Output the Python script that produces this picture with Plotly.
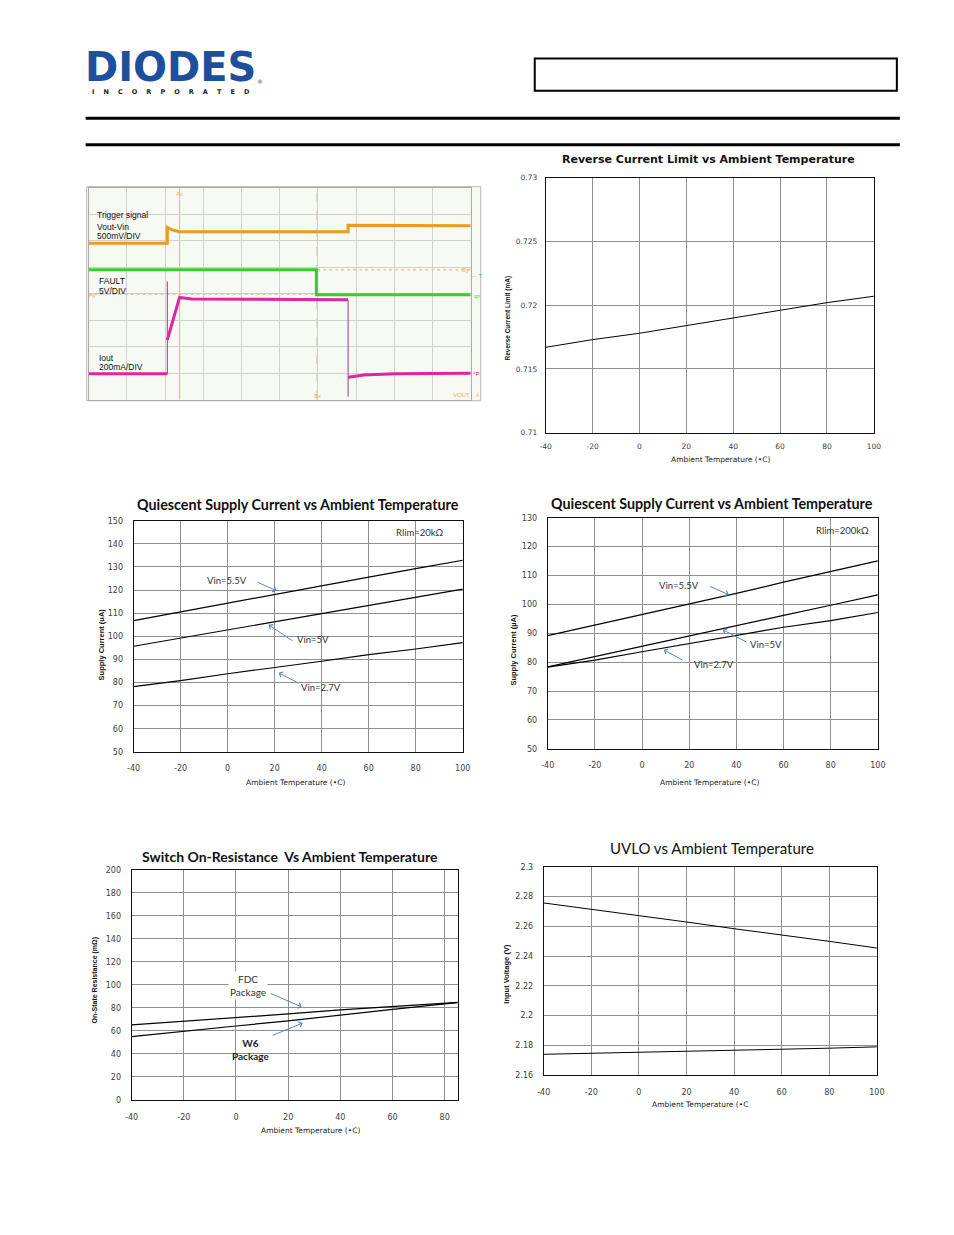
import plotly.graph_objects as go

W, H = 954, 1235

# small correction for how the page is captured (measured from a previous render)
SX, OX = 0.984, 7.4
SY, OY = 0.9924, 4.4


def px(x):
    return ((x - OX) / SX) / W


def py(y):
    return 1 - ((y - OY) / SY) / H


# ---------------- data ----------------
temps = [-40, -20, 0, 20, 40, 60, 80, 100]
temp_labels = ["-40", "-20", "0", "20", "40", "60", "80", "100"]
rev_limit = [0.7167, 0.7173, 0.7178, 0.7184, 0.7190, 0.7196, 0.7202, 0.7207]

q20_vin55 = [106.8, 110.6, 114.3, 118.3, 121.8, 125.6, 129.3, 132.9]
q20_vin50 = [95.7, 99.2, 102.7, 106.2, 109.7, 113.2, 116.8, 120.4]
q20_vin27 = [78.2, 80.8, 83.8, 86.4, 89.2, 92.1, 94.5, 97.3]

q200_vin55 = [89.2, 92.8, 96.5, 100.2, 103.8, 107.7, 111.4, 115.1]
q200_vin50 = [78.4, 82.0, 85.5, 89.2, 92.7, 96.2, 99.7, 103.3]
q200_vin27 = [78.3, 80.7, 83.6, 86.5, 89.2, 92.1, 94.4, 97.2]

ron_temps = [-40, -20, 0, 20, 40, 60, 80, 85]
ron_ticks = [-40, -20, 0, 20, 40, 60, 80]
ron_labels = ["-40", "-20", "0", "20", "40", "60", "80"]
ron_fdc = [65.2, 68.2, 71.6, 74.8, 78.3, 81.2, 84.1, 84.9]
ron_w6 = [55.1, 59.4, 64.3, 68.7, 73.9, 78.8, 83.5, 84.6]

uvlo_rise = [2.2757, 2.2715, 2.2676, 2.2629, 2.2584, 2.2544, 2.2499, 2.2454]
uvlo_fall = [2.1739, 2.1745, 2.1751, 2.1757, 2.1766, 2.1773, 2.1780, 2.1789]

# oscilloscope capture (time and level in screen divisions)
vout_t = [0, 2.06, 2.06, 2.2, 2.38, 6.79, 6.79, 10]
vout_v = [5.9, 5.9, 6.5, 6.4, 6.34, 6.34, 6.58, 6.56]
fault_t = [0, 5.96, 5.96, 10]
fault_v = [4.9, 4.9, 3.96, 3.96]
iout_t = [0, 2.06, None, 2.06, 2.38, 2.7, 6.79, None, 6.79, 7.2, 8.0, 10]
iout_v = [0.98, 0.98, None, 2.26, 3.86, 3.8, 3.77, None, 0.85, 0.93, 0.98, 1.0]
iout_edge_t = [2.06, 2.06, None, 6.79, 6.79]
iout_edge_v = [0.98, 4.46, None, 3.77, 0.12]
cursor_ax = 2.38
cursor_bx = 5.98
cursor_ay = 3.98
cursor_by = 4.9

fig = go.Figure()

# ---------------- scope ----------------
fig.add_trace(go.Scatter(x=iout_edge_t, y=iout_edge_v, xaxis="x", yaxis="y", mode="lines",
                         line=dict(color="#9B3A8E", width=1), hoverinfo="skip"))
fig.add_trace(go.Scatter(x=vout_t, y=vout_v, xaxis="x", yaxis="y", mode="lines",
                         line=dict(color="#EE9A1E", width=3), hoverinfo="skip"))
fig.add_trace(go.Scatter(x=fault_t, y=fault_v, xaxis="x", yaxis="y", mode="lines",
                         line=dict(color="#3CCB2E", width=3), hoverinfo="skip"))
fig.add_trace(go.Scatter(x=iout_t, y=iout_v, xaxis="x", yaxis="y", mode="lines",
                         line=dict(color="#E0259E", width=3), hoverinfo="skip"))

BL = dict(color="black", width=1)
fig.add_trace(go.Scatter(x=temps, y=rev_limit, xaxis="x2", yaxis="y2", mode="lines", line=BL))
for s in (q20_vin55, q20_vin50, q20_vin27):
    fig.add_trace(go.Scatter(x=temps, y=s, xaxis="x3", yaxis="y3", mode="lines",
                             line=dict(color="black", width=1.2)))
for s in (q200_vin55, q200_vin50, q200_vin27):
    fig.add_trace(go.Scatter(x=temps, y=s, xaxis="x4", yaxis="y4", mode="lines",
                             line=dict(color="black", width=1.2)))
for s in (ron_fdc, ron_w6):
    fig.add_trace(go.Scatter(x=ron_temps, y=s, xaxis="x5", yaxis="y5", mode="lines",
                             line=dict(color="black", width=1.2)))
for s in (uvlo_rise, uvlo_fall):
    fig.add_trace(go.Scatter(x=temps, y=s, xaxis="x6", yaxis="y6", mode="lines", line=BL))

TICKFONT = dict(family="DejaVu Sans", size=7.5, color="#404040")
GRID = "#8f8f8f"


def xax(x0, x1, anchor, rng, tickvals, ticktext, tf=TICKFONT, standoff=6):
    return dict(domain=[px(x0), px(x1)], anchor=anchor, range=rng, tickmode="array",
                tickvals=tickvals, ticktext=ticktext,
                showgrid=True, gridcolor=GRID, gridwidth=1, zeroline=False,
                showline=True, linecolor="#111", linewidth=1, mirror=True,
                ticks="", tickfont=tf, ticklabelstandoff=standoff, fixedrange=True)


def yax(y0, y1, anchor, rng, dtick, tf=TICKFONT, standoff=6, fmt=None):
    d = dict(domain=[py(y1), py(y0)], anchor=anchor, range=rng, dtick=dtick, tick0=rng[0],
             showgrid=True, gridcolor=GRID, gridwidth=1, zeroline=False,
             showline=True, linecolor="#111", linewidth=1, mirror=True,
             ticks="", tickfont=tf, ticklabelstandoff=standoff, fixedrange=True)
    if fmt:
        d["tickformat"] = fmt
    return d


layout = dict(
    width=W, height=H, autosize=False,
    margin=dict(l=0, r=0, t=0, b=0),
    paper_bgcolor="white", plot_bgcolor="white",
    showlegend=False, hovermode=False,
)

layout["xaxis"] = dict(domain=[px(89), px(471)], anchor="y", range=[0, 10], dtick=1,
                       showgrid=True, gridcolor="#cfd2cc", zeroline=False, showticklabels=False,
                       showline=True, linecolor="#a8a8a8", mirror=True, ticks="", fixedrange=True)
layout["yaxis"] = dict(domain=[py(400), py(188)], anchor="x", range=[0, 8], dtick=1,
                       showgrid=True, gridcolor="#cfd2cc", zeroline=False, showticklabels=False,
                       showline=True, linecolor="#a8a8a8", mirror=True, ticks="", fixedrange=True)

layout["xaxis2"] = xax(546, 874, "y2", [-40, 100], temps, temp_labels)
layout["yaxis2"] = yax(178, 433, "x2", [0.71, 0.73], 0.005, fmt="~g")

QF = dict(family="DejaVu Sans", size=8, color="#404040")
layout["xaxis3"] = xax(134, 463, "y3", [-40, 100], temps, temp_labels, tf=QF, standoff=9)
layout["yaxis3"] = yax(521, 752, "x3", [50, 150], 10, tf=QF, standoff=8)
layout["xaxis4"] = xax(548, 878, "y4", [-40, 100], temps, temp_labels, tf=QF, standoff=9)
layout["yaxis4"] = yax(518, 749, "x4", [50, 130], 10, tf=QF, standoff=8)
layout["xaxis5"] = xax(132, 458, "y5", [-40, 85], ron_ticks, ron_labels, tf=QF, standoff=9)
layout["yaxis5"] = yax(870, 1100, "x5", [0, 200], 20, tf=QF, standoff=8)
layout["xaxis6"] = xax(544, 877, "y6", [-40, 100], temps, temp_labels, tf=QF, standoff=9)
layout["yaxis6"] = yax(867, 1075, "x6", [2.16, 2.3], 0.02, tf=QF, standoff=8, fmt="~g")

shapes = []
shapes.append(dict(type="rect", xref="paper", yref="paper", x0=px(535), x1=px(897), y0=py(91), y1=py(59),
                   line=dict(color="black", width=2)))
for yy in (118.5, 145):
    shapes.append(dict(type="line", xref="paper", yref="paper", x0=px(86), x1=px(900), y0=py(yy), y1=py(yy),
                       line=dict(color="black", width=3)))
shapes.append(dict(type="rect", xref="paper", yref="paper", x0=px(87), x1=px(481), y0=py(401), y1=py(187),
                   line=dict(color="#b8b8b8", width=1), fillcolor="#f7f9f3", layer="below"))
shapes.append(dict(type="line", xref="x", yref="y", x0=cursor_ax, x1=cursor_ax, y0=0, y1=8,
                   line=dict(color="#F4B860", width=1), layer="below"))
shapes.append(dict(type="line", xref="x", yref="y", x0=cursor_bx, x1=cursor_bx, y0=0, y1=8,
                   line=dict(color="#C9A46A", width=1, dash="dash"), layer="below"))
shapes.append(dict(type="line", xref="x", yref="y", x0=0, x1=cursor_bx, y0=cursor_ay, y1=cursor_ay,
                   line=dict(color="#D9B07A", width=1, dash="dot"), layer="below"))
shapes.append(dict(type="line", xref="x", yref="y", x0=cursor_bx, x1=10, y0=cursor_by, y1=cursor_by,
                   line=dict(color="#D9B07A", width=1, dash="dot"), layer="below"))
layout["shapes"] = shapes

ann = []


def text(x, y, t, size=10, family="Lato", color="#111", bold=False, angle=0, xanchor="center", bg=None):
    d = dict(xref="paper", yref="paper", x=px(x), y=py(y), text=("<b>%s</b>" % t) if bold else t,
             showarrow=False, xanchor=xanchor, yanchor="middle", textangle=angle,
             font=dict(family=family, size=size, color=color))
    if bg:
        d["bgcolor"] = bg
    ann.append(d)


def arrow(x0, y0, x1, y1):
    ann.append(dict(xref="paper", yref="paper", x=px(x1), y=py(y1), ax=(x0 - x1) / SX, ay=(y0 - y1) / SY,
                    axref="pixel", ayref="pixel", text="", showarrow=True, arrowhead=4,
                    arrowsize=1.1, arrowwidth=1, arrowcolor="#5B86C0"))


# logo
NB = "&nbsp;" * 4
text(171, 67, "DIODES", size=40, family="DejaVu Sans", color="#1D4F9D", bold=True)
text(171, 92, NB.join("INCORPORATED"), size=6.5, family="DejaVu Sans", color="#222", bold=True)
text(260, 82, "®", size=6, family="DejaVu Sans", color="#1D4F9D")

# scope labels
SF = "Liberation Sans"
for (x, y, t) in [(95, 215, "Trigger signal"), (95, 227, "Vout-Vin"), (95, 236, "500mV/DIV"),
                  (97, 281, "FAULT"), (97, 291, "5V/DIV"), (97, 358, "Iout"), (97, 367, "200mA/DIV")]:
    text(x, y, t, size=8.5, family=SF, color="#111", xanchor="left")
for (x, y, t, c) in [(180, 194, "Ax", "#E8B070"), (318, 396, "Bx", "#E8B070"), (93, 295, "Ay", "#E8B070"),
                     (466, 270, "By", "#E8B070"), (477, 276, "← T", "#5BC24A"), (477, 297, "²P", "#5BC24A"),
                     (477, 374, "⁴P", "#E0259E"), (462, 395, "VOUT", "#E8B070"), (478, 395, "⇓", "#E8B070")]:
    text(x, y, t, size=6, family=SF, color=c)

# reverse current chart
text(709, 160, "Reverse Current Limit vs Ambient Temperature", size=11, family="DejaVu Sans", bold=True, color="#111")
text(721, 460, "Ambient Temperature (•C)", size=7.5, family="DejaVu Sans", color="#222")
text(508, 318, "Reverse Current Limit (mA)", size=6.5, family="Liberation Sans", bold=True, angle=-90)

# quiescent 20k
text(298, 505, "Quiescent Supply Current vs Ambient Temperature", size=14.3, bold=True)
text(296, 783, "Ambient Temperature (•C)", size=7.5, family="DejaVu Sans", color="#222")
text(102, 645, "Supply Current (uA)", size=7.5, family="Liberation Sans", bold=True, angle=-90)
text(420, 533, "Rlim=20kΩ", size=9.5, color="#333")
text(227, 581, "Vin=5.5V", size=9.5, color="#333")
arrow(257, 582, 277, 591)
text(313, 640, "Vin=5V", size=9.5, color="#333")
arrow(294, 642, 269, 625)
text(321, 688, "Vin=2.7V", size=9.5, color="#333")
arrow(300, 684, 279, 673)

# quiescent 200k
text(712, 504, "Quiescent Supply Current vs Ambient Temperature", size=14.3, bold=True)
text(710, 783, "Ambient Temperature (•C)", size=7.5, family="DejaVu Sans", color="#222")
text(514, 650, "Supply Current (µA)", size=7.5, family="Liberation Sans", bold=True, angle=-90)
text(843, 531, "Rlim=200kΩ", size=9.5, color="#333")
text(679, 586, "Vin=5.5V", size=9.5, color="#333")
arrow(709, 586, 729, 595)
text(766, 645, "Vin=5V", size=9.5, color="#333")
arrow(748, 643, 723, 630)
text(714, 665, "Vin=2.7V", size=9.5, color="#333")
arrow(684, 661, 664, 650)

# on-resistance
text(290, 857, "Switch On-Resistance  Vs Ambient Temperature", size=14, bold=True)
text(311, 1131, "Ambient Temperature (•C)", size=7.5, family="DejaVu Sans", color="#222")
text(95, 980, "On-State Resistance (mΩ)", size=7, family="Liberation Sans", bold=True, angle=-90)
text(228, 986, "FDC<br>Package", size=10, color="#333", xanchor="left", bg="white")
arrow(270, 993, 302, 1007)
text(230, 1050, "<b>W6<br>Package</b>", size=10, color="#222", xanchor="left")
arrow(272, 1036, 303, 1023)

# uvlo
text(712, 848, "UVLO vs Ambient Temperature", size=15, color="#111")
text(700, 1105, "Ambient Temperature (•C", size=7.5, family="DejaVu Sans", color="#222")
text(507, 974, "Input Voltage (V)", size=7.5, family="Liberation Sans", bold=True, angle=-90)

layout["annotations"] = ann
fig.update_layout(**layout)
fig.write_html("out.html", config={"displayModeBar": False, "staticPlot": True},
               post_script="document.body.style.margin='0';document.body.style.padding='0';"
                           "document.documentElement.style.overflow='hidden';")
